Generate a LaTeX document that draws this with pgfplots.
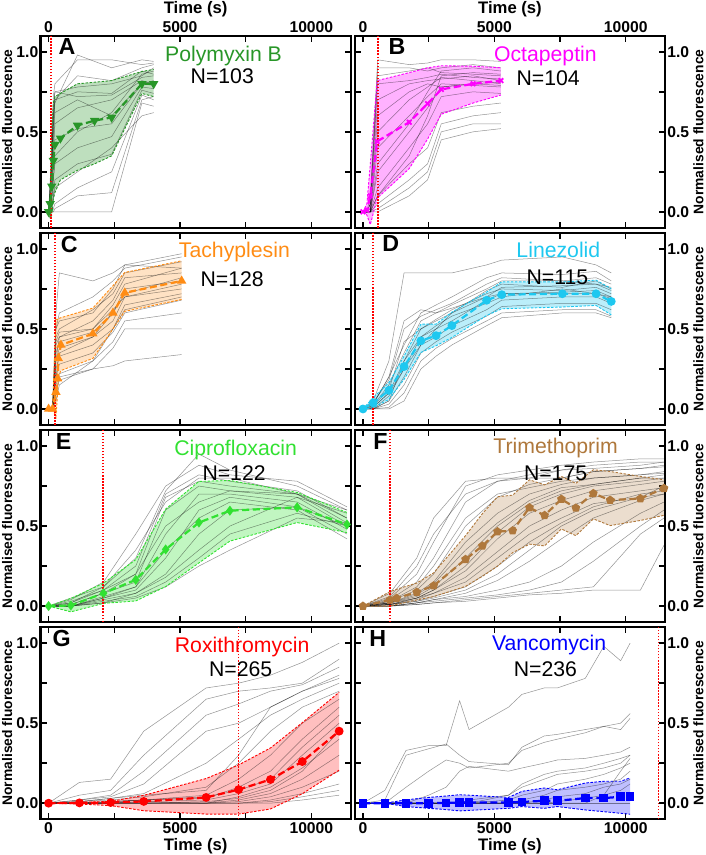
\documentclass[border=0pt]{standalone}
\usepackage{fontspec}
\setmainfont{Liberation Sans}
\usepackage{pgfplots}
\usepackage{pgfplotstable}
\pgfplotsset{compat=1.18}
\usepgfplotslibrary{groupplots,fillbetween}
\usetikzlibrary{plotmarks}

\definecolor{cA}{RGB}{40,150,40}
\definecolor{cB}{RGB}{255,0,255}
\definecolor{cC}{RGB}{255,140,20}
\definecolor{cD}{RGB}{30,200,240}
\definecolor{cE}{RGB}{50,225,50}
\definecolor{cF}{RGB}{175,120,60}
\definecolor{cG}{RGB}{255,0,0}
\definecolor{cH}{RGB}{0,0,255}

% ---------- individual traces ----------
\pgfplotstableread{
t a1 a2 a3 a4 a5 a6 a7 a8 a9 a10 a11 a12 a13 a14 a15 a16
0 0 0 0 0 0 0 0 0 0 0 0 0 0 0 0 0
120 0.3 0.4 0.2 0.1 0.1 0.05 0.02 0 0 0 0.3 0.3 0.2 0.1 0.02 0.3
180 0.6 0.72 0.5 0.35 0.3 0.2 0.1 0.02 0 0 0.6 0.65 0.45 0.2 0.08 0.55
240 0.75 0.8 0.7 0.55 0.45 0.3 0.2 0.05 0 0.02 0.7 0.75 0.62 0.35 0.15 0.68
1100 0.78 0.95 0.75 0.65 0.52 0.4 0.3 0.15 0 0.1 0.85 0.72 0.7 0.5 0.25 0.98
2400 0.8 0.95 0.74 0.7 0.55 0.47 0.36 0.25 0 0.12 0.82 0.73 0.6 0.62 0.4 0.9
3550 0.85 0.92 0.88 0.82 0.8 0.78 0.76 0.73 0.68 0.7 0.9 0.84 0.8 0.86 0.6 0.95
4000 0.9 0.93 0.86 0.8 0.79 0.77 0.74 0.7 0.66 0.72 0.92 0.85 0.82 0.88 0.62 0.94
}\gA
\pgfplotstableread{
t b1 b2 b3 b4 b5 b6 b7 b8 b9 b10 b11 b12 b13 b14 b15 b16
0 0 0 0 0 0 0 0 0 0 0 0 0 0 0 0 0
150 0 0 0 0 0 0 0 0 0 0 0 0 0 0 0 0
280 0.1 0.05 0.05 0.02 0 0 0 0 0 0 0 0 0.05 0 0 0
560 0.95 0.85 0.8 0.7 0.5 0.4 0.25 0.15 0.1 0.05 0.02 0 0.9 0.6 0.3 0.1
1760 0.92 0.88 0.82 0.8 0.7 0.6 0.5 0.4 0.3 0.2 0.15 0.1 0.9 0.75 0.55 0.35
2460 0.93 0.9 0.84 0.82 0.78 0.72 0.65 0.55 0.4 0.3 0.25 0.2 0.88 0.8 0.75 0.6
2980 0.95 0.87 0.86 0.83 0.84 0.8 0.78 0.72 0.62 0.55 0.5 0.45 0.9 0.78 0.88 0.85
4190 0.95 0.86 0.84 0.85 0.82 0.79 0.8 0.75 0.66 0.6 0.55 0.5 0.92 0.8 0.9 0.87
5250 0.94 0.85 0.83 0.82 0.8 0.78 0.81 0.74 0.68 0.62 0.55 0.52 0.9 0.79 0.88 0.86
}\gB
\pgfplotstableread{
t c1 c2 c3 c4 c5 c6 c7 c8 c9 c10 c11 c12 c13 c14 c15 c16
0 0 0 0 0 0 0 0 0 0 0 0 0 0 0 0 0
150 0 0 0 0 0 0 0 0 0 0 0 0 0 0 0 0
280 0.6 0.5 0.45 0.4 0.35 0.3 0.25 0.2 0.15 0.1 0.1 0.5 0.3 0.2 0.05 0.42
410 0.85 0.6 0.5 0.45 0.42 0.38 0.33 0.28 0.22 0.18 0.2 0.55 0.45 0.35 0.15 0.48
1685 0.8 0.7 0.62 0.5 0.48 0.45 0.4 0.35 0.3 0.25 0.25 0.6 0.55 0.45 0.3 0.5
2450 0.85 0.8 0.72 0.65 0.6 0.55 0.5 0.48 0.42 0.38 0.27 0.75 0.68 0.6 0.5 0.62
2900 0.9 0.88 0.85 0.78 0.72 0.7 0.65 0.6 0.55 0.5 0.3 0.9 0.82 0.75 0.62 0.7
5065 0.97 0.95 0.92 0.88 0.82 0.78 0.72 0.68 0.6 0.5 0.34 0.88 0.85 0.8 0.7 0.75
}\gC
\pgfplotstableread{
t d1 d2 d3 d4 d5 d6 d7 d8 d9 d10 d11 d12 d13 d14
0 0 0 0 0 0 0 0 0 0 0 0 0 0 0
385 0.05 0.03 0.02 0.01 0 0 0 0 0 0.04 0.02 0.03 0 0.01
987 0.3 0.2 0.15 0.1 0.08 0.05 0.03 0.01 0 0.18 0.12 0.2 0.05 0.1
1564 0.85 0.4 0.35 0.3 0.25 0.2 0.15 0.1 0.05 0.5 0.42 0.55 0.3 0.25
2205 0.85 0.6 0.55 0.5 0.45 0.4 0.35 0.3 0.25 0.58 0.5 0.62 0.45 0.4
2782 0.85 0.65 0.6 0.55 0.5 0.45 0.42 0.38 0.33 0.62 0.56 0.6 0.52 0.5
3385 0.85 0.7 0.65 0.6 0.55 0.52 0.48 0.44 0.4 0.66 0.62 0.63 0.58 0.6
4705 0.9 0.82 0.75 0.7 0.68 0.62 0.58 0.55 0.52 0.78 0.72 0.7 0.66 0.74
5282 0.93 0.85 0.8 0.76 0.72 0.68 0.64 0.6 0.57 0.82 0.75 0.72 0.7 0.78
7590 0.95 0.84 0.8 0.77 0.73 0.7 0.66 0.62 0.6 0.8 0.74 0.72 0.75 0.76
8870 0.9 0.86 0.82 0.78 0.74 0.7 0.66 0.62 0.6 0.78 0.76 0.72 0.72 0.8
9450 0.85 0.8 0.78 0.74 0.7 0.66 0.62 0.58 0.57 0.76 0.72 0.69 0.7 0.75
}\gD
\pgfplotstableread{
t e1 e2 e3 e4 e5 e6 e7 e8 e9 e10 e11 e12 e13 e14
0 0 0 0 0 0 0 0 0 0 0 0 0 0 0
848 0.05 0.03 0.02 0.01 0 0 0 0 0 0.02 0.01 0 0.04 0
2089 0.12 0.1 0.1 0.08 0.06 0.05 0.04 0.03 0.02 0.12 0.08 0.05 0.15 0.02
3317 0.3 0.25 0.2 0.15 0.12 0.1 0.08 0.06 0.05 0.35 0.2 0.12 0.45 0.08
4456 0.72 0.7 0.68 0.6 0.45 0.3 0.2 0.15 0.12 0.65 0.5 0.35 0.75 0.18
5722 0.95 0.82 0.78 0.75 0.7 0.6 0.45 0.3 0.25 0.8 0.65 0.55 0.88 0.35
6900 0.85 0.78 0.75 0.72 0.7 0.68 0.6 0.45 0.35 0.8 0.72 0.65 0.82 0.5
9457 0.75 0.72 0.7 0.68 0.65 0.62 0.62 0.58 0.55 0.7 0.7 0.6 0.78 0.68
11356 0.6 0.55 0.52 0.5 0.48 0.45 0.5 0.5 0.52 0.6 0.55 0.42 0.62 0.58
}\gE
\pgfplotstableread{
t f1 f2 f3 f4 f5 f6 f7 f8 f9 f10 f11 f12 f13 f14 f15 f16 f17 f18 f19 f20
0 0 0 0 0 0 0 0 0 0 0 0 0 0 0 0 0 0 0 0 0
1024 0.05 0.04 0.03 0.02 0.02 0.01 0.01 0.01 0 0 0 0 0 0.06 0.03 0.02 0.01 0.01 0.08 0.02
2048 0.2 0.15 0.1 0.08 0.06 0.05 0.04 0.03 0.02 0.02 0.02 0.01 0.01 0.25 0.12 0.07 0.05 0.03 0.3 0.05
2688 0.4 0.3 0.2 0.15 0.12 0.1 0.08 0.06 0.04 0.04 0.03 0.02 0.02 0.45 0.25 0.14 0.1 0.05 0.55 0.08
3904 0.75 0.65 0.5 0.4 0.3 0.22 0.18 0.12 0.08 0.06 0.05 0.04 0.03 0.7 0.55 0.35 0.25 0.1 0.78 0.15
5120 0.82 0.78 0.68 0.58 0.5 0.42 0.34 0.25 0.16 0.1 0.07 0.06 0.05 0.78 0.7 0.52 0.46 0.2 0.8 0.3
6336 0.85 0.82 0.76 0.7 0.64 0.58 0.5 0.4 0.28 0.15 0.1 0.08 0.07 0.8 0.74 0.66 0.62 0.35 0.8 0.45
7552 0.88 0.85 0.8 0.76 0.72 0.66 0.6 0.52 0.42 0.25 0.15 0.1 0.08 0.85 0.78 0.74 0.7 0.5 0.8 0.55
8768 0.9 0.88 0.84 0.8 0.76 0.72 0.68 0.62 0.55 0.4 0.28 0.12 0.1 0.86 0.8 0.76 0.75 0.6 0.84 0.64
10560 0.92 0.9 0.86 0.82 0.8 0.76 0.72 0.7 0.66 0.58 0.5 0.45 0.1 0.88 0.82 0.8 0.78 0.68 0.86 0.68
11456 0.92 0.9 0.87 0.84 0.8 0.78 0.74 0.72 0.7 0.65 0.6 0.55 0.38 0.9 0.83 0.82 0.8 0.7 0.88 0.75
}\gF
\pgfplotstableread{
t g1 g2 g3 g4 g5 g6 g7 g8 g9 g10 g11 g12 g13 g14 g15 g16 g17 g18
0 0 0 0 0 0 0 0 0 0 0 0 0 0 0 0 0 0 0
1173 0.13 0.05 0.02 0.02 0.01 0.01 0 0 0 0 0 0 0 0 0 0.01 0 0
2360 0.15 0.08 0.05 0.04 0.03 0.02 0.01 0.01 0 0 0 0 0 0 0 0.03 0.01 0
3622 0.45 0.3 0.2 0.12 0.06 0.04 0.02 0.02 0.01 0.01 0 0 0 0 0 0.05 0.02 0
5995 0.72 0.65 0.55 0.45 0.25 0.1 0.05 0.03 0.02 0 0 0 0 0 0 0.08 0.04 0.01
7232 0.75 0.7 0.62 0.5 0.4 0.25 0.15 0.1 0.06 0.04 0.02 0.01 0 0 0 0.3 0.08 0.03
8444 0.8 0.72 0.7 0.6 0.55 0.45 0.3 0.2 0.12 0.1 0.06 0.04 0.02 0.01 0 0.6 0.15 0.08
9656 0.88 0.75 0.74 0.7 0.65 0.6 0.5 0.4 0.3 0.22 0.15 0.1 0.06 0.04 0.02 0.7 0.35 0.2
11059 1.0 0.9 0.85 0.8 0.75 0.7 0.65 0.6 0.5 0.4 0.3 0.2 0.12 0.08 0.05 0.78 0.55 0.45
}\gG
\pgfplotstableread{
t h1 h2 h3 h4 h5 h6 h7 h8 h9 h10 h11 h12
0 0 0 0 0 0 0 0 0 0 0 0 0
833 0.08 0.02 0 0 0 0 0 0 0 0 0 0
1641 0.33 0.3 0.1 0 0 0 0 0 0 0 0 0
2500 0.36 0.34 0.2 0.05 0 0 0 0 0 0 0 0
3166 0.36 0.37 0.27 0.1 0 0 0 0 0 0 0 0
3679 0.64 0.3 0.25 0.2 0 0 0 0 0 0 0 0
4038 0.46 0.26 0.22 0.23 0.02 0 0 0 0 0 0 0
5538 0.6 0.24 0.25 0.2 0.05 0.02 0 0 0 0 0 0.05
6051 0.68 0.35 0.33 0.22 0.1 0.05 0.02 0 0 0 0 0.12
6897 0.72 0.42 0.38 0.25 0.15 0.08 0.05 0.02 0 0 0 0.18
7397 0.72 0.43 0.4 0.27 0.18 0.12 0.08 0.04 0.01 0 0 0.2
8461 0.78 0.46 0.44 0.28 0.2 0.15 0.1 0.06 0.03 0 0 0.22
9166 0.98 0.48 0.48 0.3 0.22 0.18 0.12 0.1 0.05 0 0.05 0.25
9807 0.89 0.46 0.5 0.32 0.25 0.22 0.15 0.12 0.08 0 0.2 0.28
10166 1.0 0.53 0.56 0.35 0.3 0.25 0.2 0.15 0.12 0 0.28 0.3
}\gH

% ---------- medians and bands ----------
\pgfplotstableread{
t med up lo
0 0 0 0
60 0.05 0.1 -0.04
120 0.16 0.5 -0.02
180 0.32 0.68 0.08
240 0.42 0.72 0.12
450 0.46 0.74 0.2
1100 0.54 0.80 0.26
1750 0.57 0.81 0.30
2400 0.59 0.82 0.35
3550 0.80 0.877 0.74
4000 0.80 0.89 0.72
}\mA
\pgfplotstableread{
t med up lo
0 0 0 0
150 0.01 0.05 -0.02
280 0.1 0.3 -0.08
540 0.44 0.82 0.085
1760 0.56 0.87 0.27
2460 0.676 0.9 0.455
2980 0.765 0.913 0.61
4190 0.80 0.91 0.68
5250 0.82 0.90 0.73
}\mB
\pgfplotstableread{
t med up lo
0 0 0 0
150 0 0 0
280 0.105 0.56 -0.05
345 0.19 0.56 0.1
370 0.316 0.565 0.2
470 0.40 0.57 0.24
1685 0.47 0.63 0.316
2450 0.60 0.77 0.50
2900 0.726 0.853 0.61
5065 0.80 0.926 0.684
}\mC
\pgfplotstableread{
t med up lo
0 0 0 0
385 0.038 0.07 0.006
987 0.116 0.164 0.06
1564 0.265 0.33 0.185
2205 0.426 0.53 0.353
2782 0.458 0.53 0.395
3385 0.521 0.605 0.447
4705 0.679 0.73 0.584
5282 0.714 0.794 0.626
7590 0.72 0.794 0.637
8870 0.72 0.805 0.647
9450 0.672 0.752 0.588
}\mD
\pgfplotstableread{
t med up lo
0 0 0 0
848 0.004 0.048 -0.036
2089 0.08 0.143 0.017
3317 0.164 0.29 0.032
4456 0.354 0.606 0.122
5722 0.522 0.779 0.27
6900 0.596 0.785 0.406
9457 0.617 0.71 0.522
11356 0.51 0.585 0.459
}\mE
\pgfplotstableread{
t med up lo
0 0 0 0
1024 0.038 0.09 0.0
1280 0.049 0.105 0.01
2048 0.087 0.144 0.038
2688 0.127 0.207 0.059
3904 0.292 0.44 0.123
4544 0.376 0.577 0.186
5120 0.465 0.683 0.249
5696 0.471 0.693 0.334
6336 0.615 0.789 0.387
6912 0.567 0.757 0.376
7552 0.668 0.81 0.482
8102 0.613 0.767 0.44
8768 0.704 0.852 0.545
9408 0.662 0.841 0.503
10560 0.672 0.81 0.535
11456 0.736 0.789 0.567
}\mF
\pgfplotstableread{
t med up lo
0 0 0 0
1173 0.002 0.005 -0.005
2360 0.004 0.011 -0.015
3622 0.011 0.049 -0.047
5995 0.036 0.154 -0.068
7232 0.085 0.239 -0.068
8444 0.148 0.345 -0.036
9656 0.26 0.503 0.059
11059 0.45 0.693 0.207
}\mG
\pgfplotstableread{
t med up lo
0 0 0 0
833 0 0 0
1641 0 0.021 -0.021
2500 0 0.036 -0.032
3166 0.002 0.045 -0.04
3679 0.004 0.053 -0.048
4038 0.004 0.05 -0.045
5538 0.004 0.036 -0.032
6051 0.008 0.074 -0.021
6897 0.015 0.095 -0.032
7397 0.015 0.084 -0.021
8461 0.032 0.126 -0.042
9166 0.032 0.137 -0.053
9807 0.04 0.137 -0.063
10166 0.044 0.158 -0.069
}\mH

\pgfplotsset{
  gl/.style={black, opacity=0.42, line width=0.5pt, forget plot},
  edge/.style={#1, line width=0.9pt, dash pattern=on 2.5pt off 1.5pt, forget plot},
  med/.style={#1, line width=2.2pt, dash pattern=on 7pt off 3.5pt, mark size=3.2pt},
  redl/.style={red, line width=1.7pt, dash pattern=on 1.5pt off 1.5pt, forget plot},
}
\tikzset{
  ttl/.style={font=\fontsize{21}{21}\selectfont},
  lett/.style={anchor=north west, inner sep=0pt, font=\fontsize{23}{23}\selectfont\bfseries},
}

\begin{document}
\begin{tikzpicture}
\begin{groupplot}[
  group style={group size=2 by 4, horizontal sep=4pt, vertical sep=5pt},
  scale only axis, width=307pt, height=190pt,
  xmin=-310, xmax=11500, ymin=-0.1, ymax=1.1,
  xtick={0,5000,10000}, minor xtick={2500,7500},
  ytick={0,0.5,1}, minor ytick={0.25,0.75},
  scaled x ticks=false,
  /pgf/number format/assume math mode=true,
  xticklabel style={/pgf/number format/1000 sep={}},
  yticklabel style={/pgf/number format/fixed, /pgf/number format/fixed zerofill, /pgf/number format/precision=1, inner sep=2pt},
  tick label style={font=\fontsize{15.5}{16}\selectfont\bfseries},
  xlabel style={font=\fontsize{16.5}{17}\selectfont\bfseries, inner sep=1pt},
  ylabel style={font=\fontsize{13.7}{14}\selectfont\bfseries, inner sep=2pt},
  axis line style={line width=2.2pt},
  tick align=inside,
  major tick length=6pt, minor tick length=6pt,
  tick style={black, line width=1.4pt},
]
% ---------------- A ----------------
\nextgroupplot[xticklabel pos=top, xlabel={Time (s)}, ylabel={Normalised fluorescence}]
\pgfplotsinvokeforeach{1,...,16}{\addplot[gl] table[x index=0,y index=#1]{\gA};}
\addplot[name path=uA, edge=cA] table[x=t,y=up]{\mA};
\addplot[name path=lA, edge=cA] table[x=t,y=lo]{\mA};
\addplot[fill=cA, fill opacity=0.3, draw=none, forget plot] fill between[of=uA and lA];
\addplot[redl] coordinates {(100,-0.1) (100,1.1)};
\addplot[med=cA, mark=triangle*, mark options={solid, fill=cA, rotate=180}] table[x=t,y=med]{\mA};
\node[ttl, text=cA] at (rel axis cs:0.59,0.895) {Polymyxin B};
\node[ttl] at (rel axis cs:0.586,0.79) {N=103};
\node[lett] at (rel axis cs:0.058,0.985) {A};
% ---------------- B ----------------
\nextgroupplot[xticklabel pos=top, xlabel={Time (s)}, yticklabel pos=right, ylabel={Normalised fluorescence}]
\pgfplotsinvokeforeach{1,...,16}{\addplot[gl] table[x index=0,y index=#1]{\gB};}
\addplot[name path=uB, edge=cB] table[x=t,y=up]{\mB};
\addplot[name path=lB, edge=cB] table[x=t,y=lo]{\mB};
\addplot[fill=cB, fill opacity=0.3, draw=none, forget plot] fill between[of=uB and lB];
\addplot[redl] coordinates {(565,-0.1) (565,1.1)};
\addplot[med=cB, mark=x, mark options={solid, line width=1.8pt}] table[x=t,y=med]{\mB};
\node[ttl, text=cB] at (rel axis cs:0.614,0.895) {Octapeptin};
\node[ttl] at (rel axis cs:0.623,0.779) {N=104};
\node[lett] at (rel axis cs:0.108,0.985) {B};
% ---------------- C ----------------
\nextgroupplot[xticklabels={}, ylabel={Normalised fluorescence}]
\pgfplotsinvokeforeach{1,...,16}{\addplot[gl] table[x index=0,y index=#1]{\gC};}
\addplot[name path=uC, edge=cC] table[x=t,y=up]{\mC};
\addplot[name path=lC, edge=cC] table[x=t,y=lo]{\mC};
\addplot[fill=cC, fill opacity=0.25, draw=none, forget plot] fill between[of=uC and lC];
\addplot[redl] coordinates {(255,-0.1) (255,1.1)};
\addplot[med=cC, mark=triangle*, mark options={solid, fill=cC}] table[x=t,y=med]{\mC};
\node[ttl, text=cC] at (rel axis cs:0.625,0.9) {Tachyplesin};
\node[ttl] at (rel axis cs:0.618,0.758) {N=128};
\node[lett] at (rel axis cs:0.065,0.985) {C};
% ---------------- D ----------------
\nextgroupplot[xticklabels={}, yticklabel pos=right, ylabel={Normalised fluorescence}]
\pgfplotsinvokeforeach{1,...,14}{\addplot[gl] table[x index=0,y index=#1]{\gD};}
\addplot[name path=uD, edge=cD] table[x=t,y=up]{\mD};
\addplot[name path=lD, edge=cD] table[x=t,y=lo]{\mD};
\addplot[fill=cD, fill opacity=0.3, draw=none, forget plot] fill between[of=uD and lD];
\addplot[redl] coordinates {(385,-0.1) (385,1.1)};
\addplot[med=cD, mark=*, mark options={solid, fill=cD}] table[x=t,y=med]{\mD};
\node[ttl, text=cD] at (rel axis cs:0.656,0.91) {Linezolid};
\node[ttl] at (rel axis cs:0.653,0.768) {N=115};
\node[lett] at (rel axis cs:0.088,0.985) {D};
% ---------------- E ----------------
\nextgroupplot[xticklabels={}, ylabel={Normalised fluorescence}]
\pgfplotsinvokeforeach{1,...,14}{\addplot[gl] table[x index=0,y index=#1]{\gE};}
\addplot[name path=uE, edge=cE] table[x=t,y=up]{\mE};
\addplot[name path=lE, edge=cE] table[x=t,y=lo]{\mE};
\addplot[fill=cE, fill opacity=0.3, draw=none, forget plot] fill between[of=uE and lE];
\addplot[redl] coordinates {(2076,-0.1) (2076,1.1)};
\addplot[med=cE, mark=diamond*, mark options={solid, fill=cE}] table[x=t,y=med]{\mE};
\node[ttl, text=cE] at (rel axis cs:0.629,0.895) {Ciprofloxacin};
\node[ttl] at (rel axis cs:0.624,0.774) {N=122};
\node[lett] at (rel axis cs:0.049,0.985) {E};
% ---------------- F ----------------
\nextgroupplot[xticklabels={}, yticklabel pos=right, ylabel={Normalised fluorescence}]
\pgfplotsinvokeforeach{1,...,20}{\addplot[gl] table[x index=0,y index=#1]{\gF};}
\addplot[name path=uF, edge=cF] table[x=t,y=up]{\mF};
\addplot[name path=lF, edge=cF] table[x=t,y=lo]{\mF};
\addplot[fill=cF, fill opacity=0.25, draw=none, forget plot] fill between[of=uF and lF];
\addplot[redl] coordinates {(1024,-0.1) (1024,1.1)};
\addplot[med=cF, mark=pentagon*, mark options={solid, fill=cF}] table[x=t,y=med]{\mF};
\node[ttl, text=cF] at (rel axis cs:0.647,0.905) {Trimethoprim};
\node[ttl] at (rel axis cs:0.647,0.774) {N=175};
\node[lett] at (rel axis cs:0.059,0.985) {F};
% ---------------- G ----------------
\nextgroupplot[xlabel={Time (s)}, ylabel={Normalised fluorescence}]
\pgfplotsinvokeforeach{1,...,18}{\addplot[gl] table[x index=0,y index=#1]{\gG};}
\addplot[name path=uG, edge=cG] table[x=t,y=up]{\mG};
\addplot[name path=lG, edge=cG] table[x=t,y=lo]{\mG};
\addplot[fill=cG, fill opacity=0.25, draw=none, forget plot] fill between[of=uG and lG];
\addplot[redl] coordinates {(7232,-0.1) (7232,1.1)};
\addplot[med=cG, mark=*, mark options={solid, fill=cG}] table[x=t,y=med]{\mG};
\node[ttl, text=cG] at (rel axis cs:0.65,0.895) {Roxithromycin};
\node[ttl] at (rel axis cs:0.645,0.78) {N=265};
\node[lett] at (rel axis cs:0.039,0.985) {G};
% ---------------- H ----------------
\nextgroupplot[xlabel={Time (s)}, yticklabel pos=right, ylabel={Normalised fluorescence}]
\pgfplotsinvokeforeach{1,...,12}{\addplot[gl] table[x index=0,y index=#1]{\gH};}
\addplot[name path=uH, edge=cH] table[x=t,y=up]{\mH};
\addplot[name path=lH, edge=cH] table[x=t,y=lo]{\mH};
\addplot[fill=cH, fill opacity=0.25, draw=none, forget plot] fill between[of=uH and lH];
\addplot[redl] coordinates {(11243,-0.1) (11243,1.1)};
\addplot[med=cH, mark=square*, mark options={solid, fill=cH}] table[x=t,y=med]{\mH};
\node[ttl, text=cH] at (rel axis cs:0.626,0.906) {Vancomycin};
\node[ttl] at (rel axis cs:0.614,0.78) {N=236};
\node[lett] at (rel axis cs:0.046,0.985) {H};
\end{groupplot}
\end{tikzpicture}
\end{document}
